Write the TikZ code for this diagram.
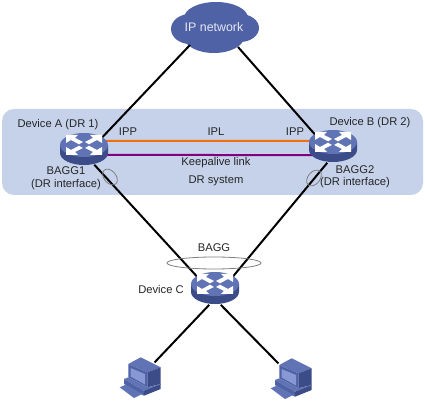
\documentclass[tikz,border=0pt]{standalone}
\usepackage{fontspec}
\setmainfont{Liberation Sans}
\usepackage{xcolor}
\usetikzlibrary{shapes.geometric}
\definecolor{panelblue}{HTML}{C5D2EA}
\definecolor{iconblue}{HTML}{4F62A6}
\definecolor{icontop}{HTML}{6073B4}
\definecolor{icondark}{HTML}{3C4C88}
\definecolor{iconlight}{HTML}{8898D4}
\definecolor{iplorange}{HTML}{F07010}
\definecolor{keeppurple}{HTML}{800080}
\tikzset{
    lbl/.style={font=\fontsize{8.4pt}{10pt}\selectfont,inner sep=0pt,text=black!85},
    cloudlbl/.style={font=\fontsize{9.3pt}{11pt}\selectfont,inner sep=0pt,text=white!85!iconblue},
    wire/.style={line width=1.5pt,black},
    loopmark/.style={draw=black!50,line width=0.6pt},
    switchnode/.style={ellipse,minimum width=36pt,minimum height=24pt,inner sep=0pt},
    pcnode/.style={inner sep=0pt,minimum size=20pt},
    switchicon/.pic={
        \fill[icondark] (-24,0) -- (-24,8) arc[start angle=180,end angle=0,x radius=24,y radius=12] -- (24,0) -- cycle;
        \fill[icontop] (0,0) ellipse[x radius=24,y radius=12];
        \fill[white] (-18,-10) -- (-6,-10) -- (-9,-7) -- (-1,-3) -- (-5,-0.7) -- (-13,-5) -- (-18,-2) -- cycle;
        \fill[white] (18,-10) -- (6,-10) -- (9,-7) -- (1,-3) -- (5,-0.7) -- (13,-5) -- (18,-2) -- cycle;
        \fill[white] (-18,10) -- (-6,10) -- (-9,7) -- (-1,3) -- (-5,0.7) -- (-13,5) -- (-18,2) -- cycle;
        \fill[white] (18,10) -- (6,10) -- (9,7) -- (1,3) -- (5,0.7) -- (13,5) -- (18,2) -- cycle;
    },
    pcicon/.pic={
        \fill[icontop] (-12.7,-12) -- (-0.3,-18.7) -- (19.7,-8.7) -- (6.3,-3.7) -- cycle;
        \fill[iconblue] (-12.7,-12) -- (6.3,-3.7) -- (6.3,11.3) -- (-12.7,1.3) -- cycle;
        \fill[iconlight] (-10.5,-8) -- (4,-2) -- (4,8.5) -- (-10.5,0.5) -- cycle;
        \fill[icondark] (6.3,-3.7) -- (19.7,-8.7) -- (19.7,8) -- (6.3,11.3) -- cycle;
        \fill[icontop] (-17,3) -- (-12.7,1.3) -- (6.3,11.3) -- (19.7,8) -- (3,14.7) -- cycle;
        \fill[iconblue] (-17,3) -- (3,14.7) -- (3,19.7) -- (-17,8) -- cycle;
        \fill[icondark] (3,14.7) -- (19.7,8) -- (19.7,13) -- (3,19.7) -- cycle;
        \fill[icontop] (-21.3,11.3) -- (-15.3,8.7) -- (1.3,18) -- (-7,22) -- cycle;
    }
}
\begin{document}
\begin{tikzpicture}[x=0.75pt,y=-0.75pt]
\useasboundingbox (0,0) rectangle (425,402);
\fill[white] (0,0) rectangle (425,402);
% DR system panel
\fill[panelblue,rounded corners=9pt] (2,109) rectangle (423,195);
% cloud
\fill[iconblue] (216,18) ellipse[x radius=32,y radius=16];
\fill[iconblue] (190,29) ellipse[x radius=19,y radius=15];
\fill[iconblue] (240,28) ellipse[x radius=19,y radius=14];
\fill[iconblue] (214,37) ellipse[x radius=30,y radius=16];
\node[cloudlbl] (cloud) at (214,27) {IP network};
\coordinate (cloudA) at (190,45);
\coordinate (cloudB) at (238,47);
% devices
\node[switchnode] (swa) at (84,150) {};
\node[switchnode] (swb) at (333,147) {};
\node[switchnode] (swc) at (215,289) {};
\node[pcnode] (pca) at (141,376) {};
\node[pcnode] (pcb) at (292,377) {};
% links
\draw[wire] (cloudA) -- (swa.north east);
\draw[wire] (cloudB) -- (swb.north west);
\draw[wire] (swa.-55) -- (swc.north west);
\draw[wire] (swb.-110) -- (swc.north east);
\draw[wire] (swc.-110) -- (pca.north east);
\draw[wire] (swc.-70) -- (pcb.north west);
\draw[line width=1.5pt,iplorange] (swa.24) -- (swb.165);
\draw[line width=1.5pt,keeppurple] (swa.-12) -- (swb.201);
% icons on top of the links
\pic at (84,145) {switchicon};
\pic at (333,142) {switchicon};
\pic at (215,284) {switchicon};
\pic at (141,376) {pcicon};
\pic at (292,377) {pcicon};
% aggregation marks
\draw[loopmark] (110,177) ellipse[x radius=9,y radius=6,rotate=-50];
\draw[loopmark] (314,178) ellipse[x radius=9,y radius=6,rotate=50];
\draw[loopmark] (214,263) ellipse[x radius=47,y radius=6];
% labels
\node[lbl] (lbla) at (58,125) {Device A (DR 1)};
\node[lbl] (lblb) at (370,123) {Device B (DR 2)};
\node[lbl] (lblc) at (161,289) {Device C};
\node[lbl] (ippa) at (128,132) {IPP};
\node[lbl] (ippb) at (295,132) {IPP};
\node[lbl] (ipl) at (216,132) {IPL};
\node[lbl] (keep) at (216,163) {Keepalive link};
\node[lbl] (drsys) at (216,181) {DR system};
\node[lbl] (bagga) at (66,171) {BAGG1};
\node[lbl] (dria) at (66,185) {(DR interface)};
\node[lbl] (baggb) at (355,170) {BAGG2};
\node[lbl] (drib) at (355,183) {(DR interface)};
\node[lbl] (bagg) at (214,248) {BAGG};
\end{tikzpicture}
\end{document}
